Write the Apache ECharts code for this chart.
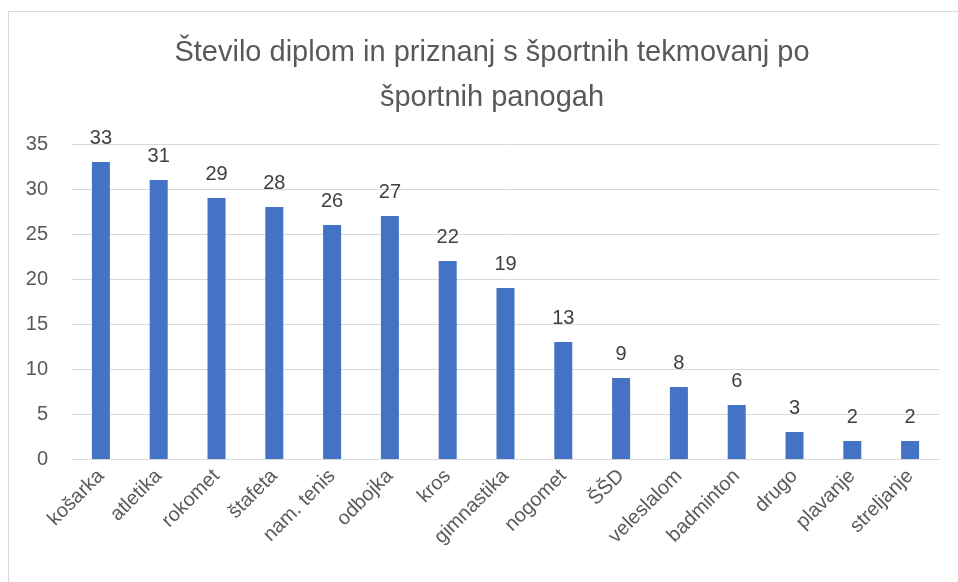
<!DOCTYPE html>
<html>
<head>
<meta charset="utf-8">
<script src="https://cdn.jsdelivr.net/npm/echarts@6/dist/echarts.min.js"></script>
<style>
  html, body { margin: 0; padding: 0; background: #fff; }
  #chart { width: 958px; height: 582px; }
</style>
</head>
<body>
<div id="chart"></div>
<script>
// categories and values
const categories = ['košarka', 'atletika', 'rokomet', 'štafeta', 'nam. tenis', 'odbojka', 'kros',
  'gimnastika', 'nogomet', 'ŠŠD', 'veleslalom', 'badminton', 'drugo', 'plavanje', 'streljanje'];
const counts = [33, 31, 29, 28, 26, 27, 22, 19, 13, 9, 8, 6, 3, 2, 2];
const yTicks = { min: 0, max: 35, interval: 5 };

const font = 'Liberation Sans, Noto Sans, sans-serif';
const myChart = echarts.init(document.getElementById('chart'));

const option = {
  animation: false,
  textStyle: { fontFamily: font },
  title: {
    text: 'Število diplom in priznanj s športnih tekmovanj po\nšportnih panogah',
    left: 487,
    textAlign: 'center',
    top: 25,
    textStyle: { fontSize: 29, fontWeight: 'normal', color: '#595959', lineHeight: 45, fontFamily: font }
  },
  graphic: [{
    type: 'rect',
    shape: { x: 8.5, y: 11.5, width: 1000, height: 1000 },
    style: { fill: null, stroke: '#d9d9d9', lineWidth: 1 }
  }],
  grid: { left: 72, right: 19, top: 144, bottom: 123 },
  xAxis: {
    type: 'category',
    data: categories,
    axisLine: { lineStyle: { color: '#d9d9d9' } },
    axisTick: { show: false },
    axisLabel: { rotate: 45, color: '#595959', fontSize: 20, margin: 14, interval: 0 }
  },
  yAxis: {
    type: 'value',
    min: yTicks.min,
    max: yTicks.max,
    interval: yTicks.interval,
    axisLine: { show: false },
    axisTick: { show: false },
    splitLine: { lineStyle: { color: '#d9d9d9' } },
    axisLabel: { color: '#595959', fontSize: 20, margin: 24 }
  },
  series: [{
    type: 'bar',
    data: counts,
    barWidth: 18,
    itemStyle: { color: '#4472C4' },
    label: { show: true, position: 'top', color: '#404040', fontSize: 20, distance: 14 }
  }]
};
myChart.setOption(option);
</script>
</body>
</html>
